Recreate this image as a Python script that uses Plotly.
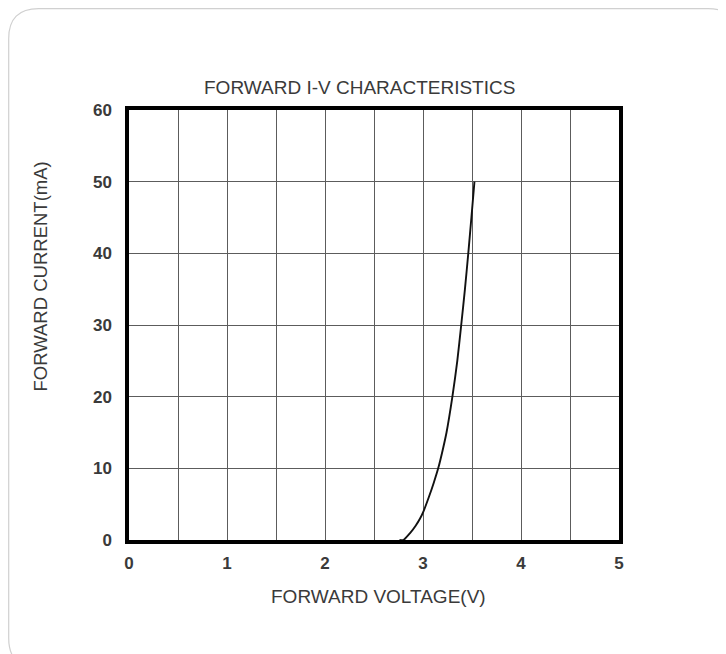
import plotly.graph_objects as go

# Data
forward_voltage = [2.76, 2.80, 2.87, 2.925, 2.97, 3.005, 3.06, 3.11, 3.155, 3.20, 3.24, 3.30, 3.35, 3.39, 3.428, 3.462, 3.494, 3.525]
forward_current = [0, 0, 1, 2, 3, 4, 6, 8, 10, 12.5, 15, 20, 25, 30, 35, 40, 45, 50]

x_ticks = [0, 1, 2, 3, 4, 5]
y_ticks = [0, 10, 20, 30, 40, 50, 60]

title_text = "FORWARD I-V CHARACTERISTICS"
x_title = "FORWARD VOLTAGE(V)"
y_title = "FORWARD CURRENT(mA)"

# page body has an 8px margin; figure is sized to fit the viewport
OFF = 8
W, H = 726 - OFF, 654 - OFF
L, R, T, B = 129 - OFF, 619 - OFF, 110 - OFF, 540 - OFF

FONT = "Liberation Sans, Arial, sans-serif"
TXT = "#3a3a3a"


def px(x):
    return (x - L) / (R - L)


def py(y):
    return (B - y) / (B - T)


fig = go.Figure()
fig.add_trace(go.Scatter(
    x=forward_voltage, y=forward_current, mode="lines",
    line=dict(color="#111111", width=1.9, shape="spline", smoothing=0.6),
    hoverinfo="skip", showlegend=False,
))

# rounded card outline (screen coords minus offset)
x0, y0, x1, y1, r = 0.7, 0.7, 730, 660, 30
path = (
    f"M {px(x0 + r)} {py(y0)} L {px(x1 - r)} {py(y0)} "
    f"Q {px(x1)} {py(y0)} {px(x1)} {py(y0 + r)} "
    f"L {px(x1)} {py(y1 - r)} Q {px(x1)} {py(y1)} {px(x1 - r)} {py(y1)} "
    f"L {px(x0 + r)} {py(y1)} Q {px(x0)} {py(y1)} {px(x0)} {py(y1 - r)} "
    f"L {px(x0)} {py(y0 + r)} Q {px(x0)} {py(y0)} {px(x0 + r)} {py(y0)} Z"
)

fig.update_layout(
    width=W, height=H,
    margin=dict(l=L, r=W - R, t=T, b=H - B),
    paper_bgcolor="white", plot_bgcolor="white",
    font=dict(family=FONT, color=TXT, size=14),
    shapes=[dict(type="path", path=path, xref="paper", yref="paper",
                 line=dict(color="#d0d0d0", width=1.2), layer="below")],
    annotations=[
        dict(text=title_text, xref="paper", yref="paper",
             x=px(359 - OFF), y=py(75 - OFF), showarrow=False,
             font=dict(size=19, color=TXT, family=FONT)),
        dict(text=x_title, xref="paper", yref="paper",
             x=px(378 - OFF), y=py(609 - OFF), showarrow=False,
             font=dict(size=19, color=TXT, family=FONT)),
        dict(text=y_title, xref="paper", yref="paper", textangle=-90,
             x=px(27 - OFF), y=py(277 - OFF), showarrow=False,
             font=dict(size=18.5, color=TXT, family=FONT)),
    ],
)

fig.update_xaxes(
    range=[0, 5], tickvals=x_ticks, ticktext=[str(v) for v in x_ticks],
    showgrid=True, gridcolor="#5c5c5c", gridwidth=1,
    minor=dict(dtick=0.5, showgrid=True, gridcolor="#5c5c5c", gridwidth=1),
    showline=True, linecolor="black", linewidth=3.5, mirror=True,
    zeroline=False, ticks="", ticklabelstandoff=5,
    tickfont=dict(size=17, color=TXT, family=FONT, weight="bold"),
)
fig.update_yaxes(
    range=[0, 60], tickvals=y_ticks, ticktext=[str(v) for v in y_ticks],
    showgrid=True, gridcolor="#5c5c5c", gridwidth=1,
    showline=True, linecolor="black", linewidth=3.5, mirror=True,
    zeroline=False, ticks="", ticklabelstandoff=10,
    tickfont=dict(size=17, color=TXT, family=FONT, weight="bold"),
)

fig.write_html("out.html")
